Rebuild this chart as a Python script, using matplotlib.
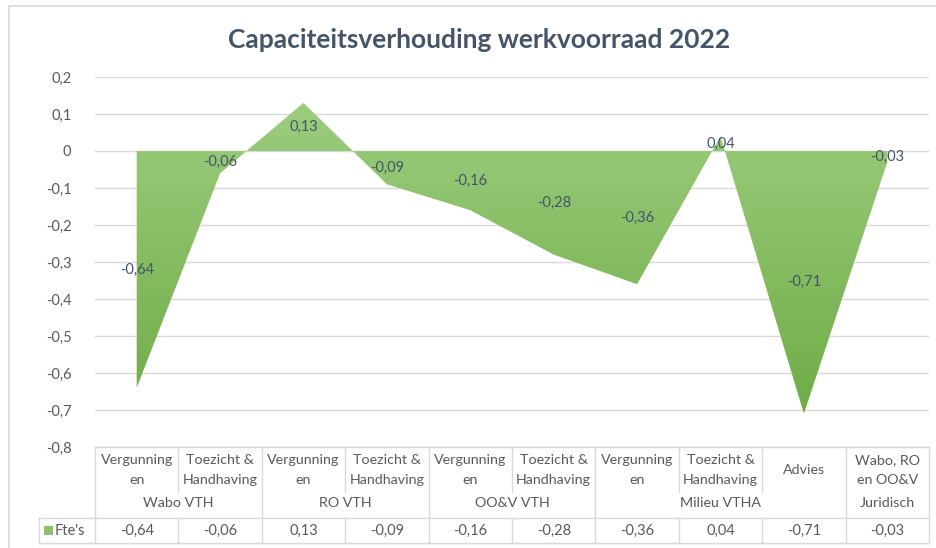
import matplotlib.pyplot as plt
import numpy as np
from matplotlib.colors import LinearSegmentedColormap
from matplotlib.patches import Rectangle, PathPatch
from matplotlib.path import Path

categories = ["Vergunning\nen", "Toezicht &\nHandhaving",
              "Vergunning\nen", "Toezicht &\nHandhaving",
              "Vergunning\nen", "Toezicht &\nHandhaving",
              "Vergunning\nen", "Toezicht &\nHandhaving",
              "Advies", "Wabo, RO\nen OO&V"]
groups = ["Wabo VTH", "RO VTH", "OO&V VTH", "Milieu VTHA", "Juridisch"]
group_spans = [(0, 1), (2, 3), (4, 5), (6, 8), (9, 9)]
values = [-0.64, -0.06, 0.13, -0.09, -0.16, -0.28, -0.36, 0.04, -0.71, -0.03]
series_name = "Fte's"
yticks = [0.2, 0.1, 0, -0.1, -0.2, -0.3, -0.4, -0.5, -0.6, -0.7, -0.8]

W, H = 936, 548
GRID = "#D9D9D9"
TXT = "#595959"
LBL = "#44546A"
FONT = ["Lato", "DejaVu Sans"]


def fmt(v):
    return ("%g" % v).replace(".", ",")


def main():
    plt.rcParams['font.family'] = FONT
    fig = plt.figure(figsize=(W / 100, H / 100), dpi=100)

    # chart frame
    fig.patches.append(Rectangle((9 / W, -0.01), 1.0, 1 - 6 / H + 0.01,
                                 transform=fig.transFigure, fill=False,
                                 edgecolor="#D9D9D9", lw=1.2))

    fig.text(479 / W, 1 - 40 / H, "Capaciteitsverhouding werkvoorraad 2022",
             ha="center", va="center", fontsize=19, fontweight="bold",
             color=LBL)

    left, right, top, bottom = 95, 929, 77, 447
    ax = fig.add_axes([left / W, 1 - bottom / H, (right - left) / W,
                       (bottom - top) / H])
    n = len(values)
    x = np.arange(n)

    for t in yticks:
        ax.axhline(t, color=GRID, lw=1, zorder=1)

    # gradient filled area
    verts = [(x[0], 0)] + list(zip(x, values)) + [(x[-1], 0), (x[0], 0)]
    patch = PathPatch(Path(verts), facecolor="none", edgecolor="none")
    ax.add_patch(patch)
    cmap = LinearSegmentedColormap.from_list("g", ["#6FAC46", "#9CCD7E"])
    grad = np.linspace(0, 1, 256).reshape(-1, 1)
    im = ax.imshow(grad, extent=[-0.5, n - 0.5, min(values), max(values)],
                   origin="lower", aspect="auto", cmap=cmap, zorder=2)
    im.set_clip_path(patch)

    for i, v in enumerate(values):
        ax.text(i, v / 2, fmt(v), ha="center", va="center", fontsize=10.5,
                color=LBL, zorder=3)

    ax.set_xlim(-0.5, n - 0.5)
    ax.set_ylim(-0.8, 0.2)
    ax.set_yticks(yticks)
    ax.set_yticklabels([fmt(t) for t in yticks])
    ax.tick_params(axis="y", length=0, pad=17, labelsize=10.5, labelcolor=TXT)
    ax.set_xticks([])
    for s in ax.spines.values():
        s.set_visible(False)

    # data table below the plot
    col = (right - left) / n
    key_left = 39
    tx0 = -0.5 - (left - key_left) / col
    tab = fig.add_axes([key_left / W, 1 - 543 / H, (right - key_left) / W,
                        (543 - bottom) / H])
    tab.set_xlim(tx0, n - 0.5)
    tab.set_ylim(543, bottom)
    tab.axis("off")

    lk = dict(color=GRID, lw=1, clip_on=False)
    tab.plot([-0.5, n - 0.5], [bottom, bottom], **lk)
    tab.plot([tx0, n - 0.5], [518, 518], **lk)
    tab.plot([tx0, n - 0.5], [543, 543], **lk)
    tab.plot([tx0, tx0], [518, 543], **lk)
    group_edges = {-0.5} | {b + 0.5 for a, b in group_spans}
    for k in range(n + 1):
        xe = k - 0.5
        if xe in group_edges:
            tab.plot([xe, xe], [bottom, 543], **lk)
        else:
            tab.plot([xe, xe], [bottom, 492], **lk)
            tab.plot([xe, xe], [518, 543], **lk)

    for i, c in enumerate(categories):
        tab.text(i, 470, c, ha="center", va="center", fontsize=10.3,
                 color=TXT, linespacing=1.85)
        tab.text(i, 531, fmt(values[i]), ha="center", va="center",
                 fontsize=10.5, color=TXT)
    for g, (a, b) in zip(groups, group_spans):
        tab.text((a + b) / 2, 503, g, ha="center", va="center", fontsize=10.3,
                 color=TXT)

    tab.add_patch(Rectangle((tx0 + 5 / col, 526), 9 / col, 9,
                            facecolor="#8CC168", edgecolor="none",
                            clip_on=False))
    tab.text(tx0 + 16 / col, 531, series_name, ha="left", va="center",
             fontsize=10.5, color=TXT)

    fig.savefig("out.png", dpi=100)


if __name__ == '__main__':
    main()
